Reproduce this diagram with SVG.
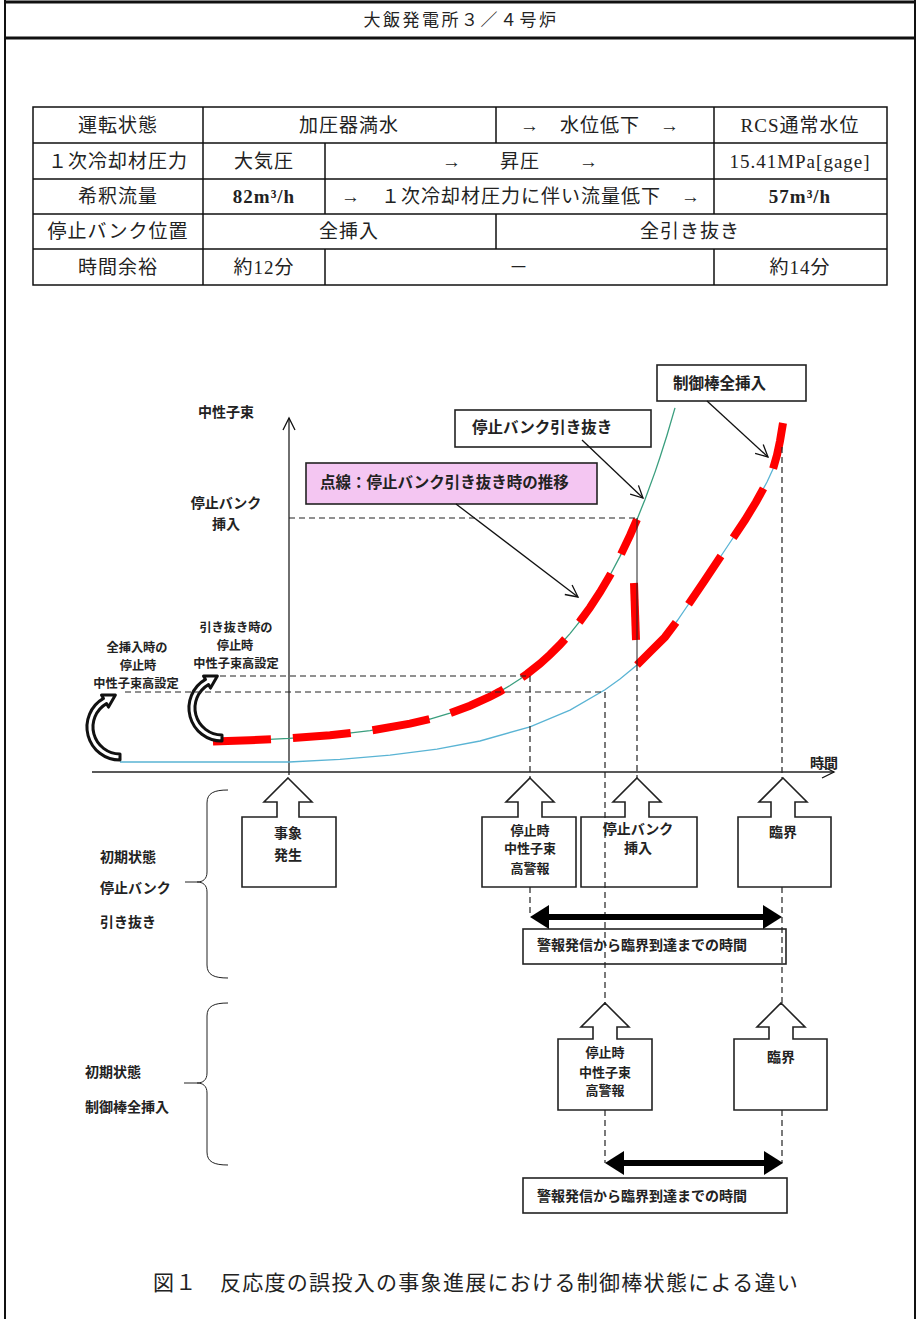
<svg xmlns="http://www.w3.org/2000/svg" width="917" height="1319" viewBox="0 0 917 1319">
<defs>
<style>
.serif{font-family:"Liberation Serif","Noto Sans CJK JP",serif;fill:#222}
.tb{font-size:19px;letter-spacing:1px;text-anchor:middle}
.g{font-family:"Noto Sans CJK JP",sans-serif;font-weight:bold;fill:#222}
.s14{font-size:14px}
.s13{font-size:13px}
.s12{font-size:12.2px}
.s15{font-size:15.5px}
.mid{text-anchor:middle}
.grid{stroke:#111;stroke-width:1.5;fill:none}
.dash{stroke:#222;stroke-width:1.2;stroke-dasharray:6 4;fill:none}
.thin{stroke:#222;stroke-width:1;fill:none}
.box{fill:#fff;stroke:#222;stroke-width:1.6}
.red{fill:none;stroke:#ff0000;stroke-width:8;stroke-dasharray:58 22}
.curl{fill:#fff;stroke:#111;stroke-width:3;stroke-linejoin:round}
</style>
<marker id="open" markerUnits="userSpaceOnUse" markerWidth="16" markerHeight="16" refX="13" refY="7" orient="auto">
<path d="M1,1 L13,7 L1,13" fill="none" stroke="#111" stroke-width="1.3"/>
</marker>
</defs>
<rect width="917" height="1319" fill="#fff"/>

<g id="frame">
<line x1="5" y1="2" x2="915" y2="2" stroke="#111" stroke-width="3"/>
<line x1="5" y1="38" x2="915" y2="38" stroke="#111" stroke-width="3"/>
<line x1="5" y1="0" x2="5" y2="1319" stroke="#111" stroke-width="2"/>
<line x1="915" y1="0" x2="915" y2="1319" stroke="#111" stroke-width="2"/>
<text class="serif" x="461" y="26" font-size="17" letter-spacing="2.5" text-anchor="middle">大飯発電所３／４号炉</text>
</g>

<g id="table">
<rect class="grid" x="33" y="107" width="854" height="178"/>
<path class="grid" d="M33,143H887M33,179H887M33,214H887M33,249H887M203,107V285M325,143V214M325,249V285M714,107V214M714,249V285M496,107V143M496,214V249"/>
<g class="serif tb">
<text x="118" y="131.5">運転状態</text>
<text x="349" y="131.5">加圧器満水</text>
<text x="600" y="131.5">→　水位低下　→</text>
<text x="800" y="131.5">RCS通常水位</text>
<text x="118" y="167.5">１次冷却材圧力</text>
<text x="264" y="167.5">大気圧</text>
<text x="452" y="167.5">→</text>
<text x="520" y="167.5">昇圧</text>
<text x="589" y="167.5">→</text>
<text x="800" y="167.5">15.41MPa[gage]</text>
<text x="118" y="203">希釈流量</text>
<text x="264" y="203" font-weight="bold">82m³/h</text>
<text x="521" y="203">→　１次冷却材圧力に伴い流量低下　→</text>
<text x="800" y="203" font-weight="bold">57m³/h</text>
<text x="118" y="238">停止バンク位置</text>
<text x="349" y="238">全挿入</text>
<text x="690" y="238">全引き抜き</text>
<text x="118" y="273.5">時間余裕</text>
<text x="264" y="273.5">約12分</text>
<text x="519" y="273.5">－</text>
<text x="800" y="273.5">約14分</text>
</g>
</g>

<g id="axes">
<line x1="289" y1="775" x2="289" y2="418" stroke="#222" stroke-width="1.3" marker-end="url(#open)"/>
<line x1="92" y1="772" x2="834" y2="772" stroke="#222" stroke-width="1.3" marker-end="url(#open)"/>
<text class="g s14 mid" x="226" y="417">中性子束</text>
<text class="g s14 mid" x="824" y="768">時間</text>
<text class="g s14 mid" x="226" y="508"><tspan x="226">停止バンク</tspan><tspan x="226" dy="20.5">挿入</tspan></text>
<text class="g s12 mid" x="236" y="632"><tspan x="236">引き抜き時の</tspan><tspan x="235" dy="17.8">停止時</tspan><tspan x="236" dy="17.8">中性子束高設定</tspan></text>
<text class="g s12 mid" x="137" y="652"><tspan x="137">全挿入時の</tspan><tspan x="138" dy="17.8">停止時</tspan><tspan x="136" dy="17.8">中性子束高設定</tspan></text>
</g>

<g id="curves">
<polyline fill="none" stroke="#5ab4d4" stroke-width="1.3" points="120,762 200,762 289,762 340,759.3 390,755.1 437,749.1 480,741 530,726.8 570,710.1 605,689.8 620,679 637,665 651,651 665,637 677,621 688,605 705,580 723,553 735,535 745,520 756,502 767,482 773,469 777,455 780,441 783,423"/>
<polyline fill="none" stroke="#3a9e7e" stroke-width="1.3" points="213,741.5 250,740.3 289,738.4 330,735.3 370,730.7 410,723.7 430,719 450,713.1 470,705.7 490,696.7 500,691.4 510,685.5 520,679 527,674 540,663.7 550,654.7 560,644.7 570,633.6 580,621.2 590,607.5 600,592.2 610,575.3 620,556.4 630,535.4 637,519.4 645,499.5 655,472.1 660,457.3 667,435.2 675,407.9"/>
<polyline class="red" points="213,741.5 250,740.3 289,738.4 330,735.3 370,730.7 410,723.7 430,719 450,713.1 470,705.7 490,696.7 500,691.4 510,685.5 520,679 527,674 540,663.7 550,654.7 560,644.7 570,633.6 580,621.2 590,607.5 600,592.2 610,575.3 620,556.4 630,535.4 637,519.4"/>
<polyline class="red" points="637,665 651,651 665,637 677,621 688,605 705,580 723,553 735,535 745,520 756,502 767,482 773,469 777,455 780,441 783,423"/>
<line x1="634" y1="583" x2="636" y2="640" stroke="#ff0000" stroke-width="8"/>
<path class="curl" d="M120,754 A27,27 0 0 1 106.5,703.6 L108.5,707.1 L115.4,695 L101.5,695 L103.5,698.4 A33,33 0 0 0 120,760 Z"/>
<path class="curl" d="M222,735 A27,27 0 0 1 208.5,684.6 L210.5,688.1 L217.4,676 L203.5,676 L205.5,679.4 A33,33 0 0 0 222,741 Z"/>
</g>

<g id="label-full-insert">
<rect class="box" x="657" y="365" width="149" height="36"/>
<text class="g s15" x="673" y="389">制御棒全挿入</text>
</g>
<g id="label-bank-withdraw">
<rect class="box" x="455" y="410" width="196" height="37"/>
<text class="g s15" x="472" y="433">停止バンク引き抜き</text>
</g>
<g id="label-dotted">
<rect x="306" y="463" width="291" height="41" fill="#f4c6f2" stroke="#222" stroke-width="1.6"/>
<text class="g s15" x="320" y="488">点線：停止バンク引き抜き時の推移</text>
</g>

<g id="group1-label">
<text class="g s14" x="100" y="862">初期状態</text>
<text class="g s14" x="100" y="893">停止バンク</text>
<text class="g s14" x="100" y="927">引き抜き</text>
<path class="thin" d="M228,790 C214,790 207,793 207,803 L207,872 C207,879 203,882 197,882 C203,882 207,885 207,892 L207,965 C207,975 214,978 228,978 M185,882 L197,882" stroke-width="1.2"/>
</g>
<g id="group2-label">
<text class="g s14" x="85" y="1077">初期状態</text>
<text class="g s14" x="85" y="1112">制御棒全挿入</text>
<path class="thin" d="M228,1003 C214,1003 207,1006 207,1016 L207,1073 C207,1080 203,1083 197,1083 C203,1083 207,1086 207,1093 L207,1152 C207,1162 214,1165 228,1165 M184,1083 L197,1083" stroke-width="1.2"/>
</g>

<g id="node-event">
<path class="box" d="M288,778 L312,802 L299,802 L299,817 L336,817 L336,887 L242,887 L242,817 L277,817 L277,802 L264,802 Z"/>
<text class="g s14 mid" x="288" y="838">事象</text>
<text class="g s14 mid" x="288" y="860">発生</text>
</g>
<g id="node-alarm1">
<path class="box" d="M530,778 L554,802 L542,802 L542,817 L576,817 L576,887 L482,887 L482,817 L518,817 L518,802 L506,802 Z"/>
<text class="g s13 mid" x="530" y="835">停止時</text>
<text class="g s13 mid" x="530" y="853">中性子束</text>
<text class="g s13 mid" x="530" y="873">高警報</text>
</g>
<g id="node-bank-insert">
<path class="box" d="M637,778 L661,802 L649,802 L649,817 L697,817 L697,887 L581,887 L581,817 L625,817 L625,802 L613,802 Z"/>
<text class="g s14 mid" x="638" y="834">停止バンク</text>
<text class="g s14 mid" x="638" y="853">挿入</text>
</g>
<g id="node-critical1">
<path class="box" d="M783,778 L807,802 L795,802 L795,817 L831,817 L831,887 L738,887 L738,817 L771,817 L771,802 L759,802 Z"/>
<text class="g s14 mid" x="783" y="837">臨界</text>
</g>
<g id="node-time1">
<rect class="box" x="523" y="929" width="263" height="35"/>
<text class="g s14" x="537" y="950">警報発信から臨界到達までの時間</text>
</g>
<g id="node-alarm2">
<path class="box" d="M605,1003 L629,1027 L617,1027 L617,1039 L652,1039 L652,1110 L558,1110 L558,1039 L593,1039 L593,1027 L581,1027 Z"/>
<text class="g s13 mid" x="605" y="1057">停止時</text>
<text class="g s13 mid" x="605" y="1077">中性子束</text>
<text class="g s13 mid" x="605" y="1095">高警報</text>
</g>
<g id="node-critical2">
<path class="box" d="M781,1003 L805,1027 L793,1027 L793,1039 L827,1039 L827,1110 L734,1110 L734,1039 L769,1039 L769,1027 L757,1027 Z"/>
<text class="g s14 mid" x="781" y="1062">臨界</text>
</g>
<g id="node-time2">
<rect class="box" x="523" y="1178" width="264" height="35"/>
<text class="g s14" x="537" y="1201">警報発信から臨界到達までの時間</text>
</g>

<g id="connectors">
<line class="dash" x1="289" y1="518" x2="637" y2="518"/>
<line class="dash" x1="220" y1="676" x2="530" y2="676"/>
<line class="dash" x1="125" y1="692" x2="605" y2="692"/>
<line class="thin" x1="637" y1="518" x2="637" y2="665"/>
<line class="dash" x1="637" y1="665" x2="637" y2="778"/>
<line class="dash" x1="530" y1="676" x2="530" y2="778"/>
<line class="dash" x1="530" y1="887" x2="530" y2="917"/>
<line class="dash" x1="605" y1="692" x2="605" y2="1003"/>
<line class="dash" x1="605" y1="1110" x2="605" y2="1163"/>
<line class="dash" x1="782" y1="447" x2="782" y2="778"/>
<line class="dash" x1="782" y1="887" x2="782" y2="1003"/>
<line class="dash" x1="782" y1="1110" x2="782" y2="1163"/>
<line x1="707" y1="401" x2="768" y2="457" stroke="#111" stroke-width="1.3" marker-end="url(#open)"/>
<line x1="582" y1="440" x2="643" y2="498" stroke="#111" stroke-width="1.3" marker-end="url(#open)"/>
<line x1="456" y1="504" x2="578" y2="597" stroke="#111" stroke-width="1.3" marker-end="url(#open)"/>
<line x1="545" y1="917" x2="767" y2="917" stroke="#000" stroke-width="6"/>
<polygon points="530,917 549,905 549,929" fill="#000"/>
<polygon points="782,917 763,905 763,929" fill="#000"/>
<line x1="620" y1="1163" x2="768" y2="1163" stroke="#000" stroke-width="6"/>
<polygon points="605,1163 624,1151 624,1175" fill="#000"/>
<polygon points="783,1163 764,1151 764,1175" fill="#000"/>
</g>

<text id="caption" class="serif" x="153" y="1290" font-size="21" letter-spacing="1.3">図１　反応度の誤投入の事象進展における制御棒状態による違い</text>
</svg>
